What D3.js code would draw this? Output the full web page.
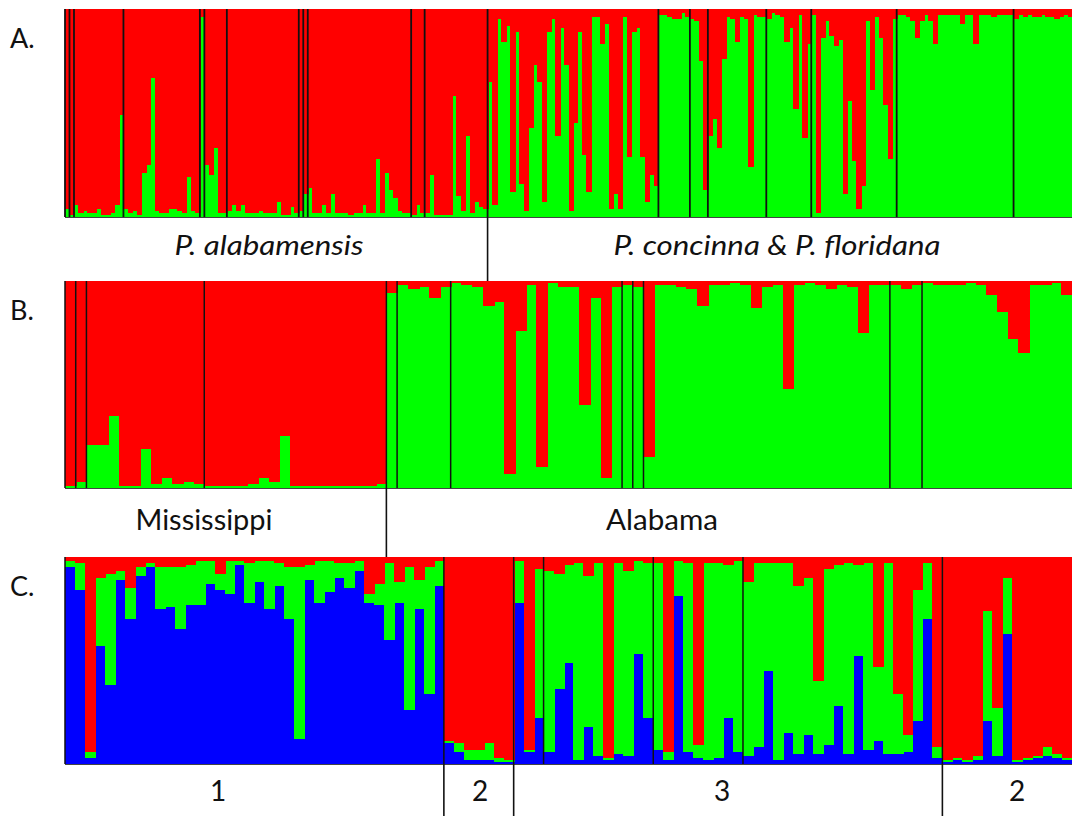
<!DOCTYPE html>
<html>
<head>
<meta charset="utf-8">
<script src="https://cdn.jsdelivr.net/npm/d3@7"></script>
<style>
    html, body { margin: 0; padding: 0; background: #fff; }
    svg { display: block; }
    text { font-family: Lato, "Open Sans", sans-serif; fill: #111; }
</style>
</head>
<body>
<div id="chart"></div>
<script>
// Panel A: all individuals, K=2 (green share, %), population sizes in plot order
const popsA = [1, 1, 11, 17, 1, 5, 16, 1, 1, 23, 3, 14, 38, 7, 4, 13, 10, 19, 26, 13];
const greenA = [
    4, 1,
    6, 2, 3, 2, 2, 4, 1, 1, 2, 6, 49,
    4, 2, 3, 1, 21, 25, 67, 3, 2, 2, 4, 4, 3, 2, 19, 3, 2,
    96,
    25, 20, 33, 2, 2,
    3, 6, 3, 6, 2, 2, 2, 3, 2, 2, 2, 7, 1, 1, 5, 2,
    3,
    11,
    14, 2, 2, 6, 2, 11, 2, 2, 2, 1, 2, 2, 6, 2, 2, 28, 2, 21, 13, 9, 3, 2, 2,
    1, 6, 2,
    2, 20, 1, 1, 1, 1, 58, 10, 3, 39, 2, 7, 5, 4,
    65, 6, 95, 84, 92, 12, 89, 16, 3, 43, 73, 65, 7, 89, 95, 39, 91, 73, 3, 45,
    89, 30, 12, 96, 96, 83, 93, 4, 11, 4, 96, 29, 89, 91, 29, 7, 20, 15,
    97, 97, 96, 95, 95, 98, 96,
    95, 94, 75, 13,
    39, 47, 33, 76, 96, 95, 84, 96, 95, 24, 97, 96, 96,
    95, 98, 97, 96, 84, 91, 52, 97, 38, 83,
    97, 2, 86, 94, 87, 82, 85, 11, 56, 27, 4, 15, 94, 61, 96, 86, 54, 28, 95,
    97, 97, 96, 94, 86, 94, 97, 94, 83, 97, 97, 97, 97, 97, 93, 97, 97, 83, 97, 97, 97, 96, 97, 97, 97, 97,
    95, 97, 96, 97, 96, 96, 97, 96, 96, 95, 96, 97, 96
];

// Panel B: P. alabamensis only, K=2 (green share, %)
const popsB = [1, 1, 11, 17, 1, 5, 16, 1, 1, 23, 3, 14];
const greenB = [
    1,
    3,
    21, 21, 35, 1, 1, 19, 2, 5, 2, 3, 2,
    1, 1, 1, 1, 2, 5, 3, 25, 1, 1, 1, 1, 1, 1, 1, 1, 2,
    94,
    98, 96, 97, 92, 97,
    99, 98, 97, 88, 90, 7, 76, 98, 10, 99, 97, 97, 40, 92, 5, 97,
    98,
    97,
    15, 98, 98, 97, 96, 88, 98, 98, 99, 98, 87, 97, 98, 48, 98, 99, 98, 96, 98, 97, 75, 98, 98,
    98, 96, 98,
    99, 98, 98, 98, 99, 98, 93, 85, 72, 65, 98, 98, 99, 93
];

// Panel C: K=3 (blue, green, red shares, %)
const popsC = [38, 7, 3, 11, 9, 20, 13];
const blueC = [
    95, 84, 3, 57, 38, 89, 70, 91, 95, 75, 76, 65, 77, 77, 87, 84, 82, 96, 78, 88,
    75, 86, 70, 12, 89, 78, 83, 90, 85, 93, 78, 77, 60, 78, 26, 75, 34, 86,
    10, 6, 2, 2, 2, 1, 1,
    78, 6, 22,
    6, 36, 49, 2, 18, 4, 2, 5, 4, 53, 22,
    7, 2, 81, 6, 3, 2, 3, 22, 6,
    4, 8, 45, 2, 15, 5, 14, 5, 9, 28, 5, 52, 7, 11, 5, 5, 6, 21, 70, 3,
    1, 2, 1, 2, 21, 4, 63, 1, 2, 3, 4, 3, 2
];
const greenC = [
    3, 13, 3, 33, 54, 4, 15, 4, 2, 20, 19, 30, 19, 21, 11, 8, 16, 2, 19, 10,
    23, 11, 25, 83, 7, 20, 15, 7, 12, 5, 4, 10, 37, 10, 69, 14, 61, 12,
    1, 4, 5, 5, 8, 2, 1,
    20, 1, 72,
    87, 56, 47, 95, 73, 93, 1, 92, 89, 45, 75,
    90, 4, 17, 91, 6, 95, 94, 74, 92,
    84, 89, 52, 95, 82, 81, 76, 35, 85, 68, 92, 44, 90, 36, 92, 29, 8, 63, 27, 5,
    1, 1, 1, 2, 53, 23, 27, 1, 1, 1, 4, 2, 1
];
const redC = [
    2, 3, 94, 10, 8, 7, 15, 5, 3, 5, 5, 5, 4, 2, 2, 8, 2, 2, 3, 2,
    2, 3, 5, 5, 4, 2, 2, 3, 3, 2, 18, 13, 3, 12, 5, 11, 5, 2,
    89, 90, 93, 93, 90, 97, 98,
    2, 93, 6,
    7, 8, 4, 3, 9, 3, 97, 3, 7, 2, 3,
    3, 94, 2, 3, 91, 3, 3, 4, 2,
    12, 3, 3, 3, 3, 14, 10, 60, 6, 4, 3, 4, 3, 53, 3, 66, 86, 16, 3, 92,
    98, 97, 98, 96, 26, 73, 10, 98, 97, 96, 92, 95, 97
];

const panelLabels = ["A.", "B.", "C."];
const speciesLabels = ["P. alabamensis", "P. concinna & P. floridana"];
const stateLabels = ["Mississippi", "Alabama"];
const clusterLabels = ["1", "2", "3", "2"];

const width = 1072,
    height = 816,
    left = 65,
    right = 1072;
const colors = { blue: "#0000ff", green: "#00ff00", red: "#ff0000" };

const svg = d3
    .select("#chart")
    .append("svg")
    .attr("width", width)
    .attr("height", height)
    .attr("viewBox", [0, 0, width, height]);

function structurePanel(rows, keys, pops, top, bottom, sepWidth) {
    var x = d3
        .scaleBand()
        .domain(d3.range(rows.length))
        .range([left, right])
        .padding(0);
    var y = d3.scaleLinear().domain([0, 1]).range([bottom, top]);
    var series = d3.stack().keys(keys).offset(d3.stackOffsetExpand)(rows);

    var g = svg.append("g");
    g.append("g")
        .attr("shape-rendering", "crispEdges")
        .selectAll("g")
        .data(series)
        .join("g")
        .attr("fill", (d) => colors[d.key])
        .selectAll("rect")
        .data((d) => d)
        .join("rect")
        .attr("x", (d, i) => x(i))
        .attr("width", x.bandwidth() + 1)
        .attr("y", (d) => y(d[1]))
        .attr("height", (d) => y(d[0]) - y(d[1]));

    // population boundaries
    var breaks = [0].concat(Array.from(d3.cumsum(pops)).slice(0, -1));
    g.append("g")
        .selectAll("line")
        .data(breaks)
        .join("line")
        .attr("x1", (d) => x(d))
        .attr("x2", (d) => x(d))
        .attr("y1", top)
        .attr("y2", bottom)
        .attr("stroke", "#111")
        .attr("stroke-width", sepWidth);

    g.append("line")
        .attr("x1", left)
        .attr("x2", right)
        .attr("y1", bottom + 0.5)
        .attr("y2", bottom + 0.5)
        .attr("stroke", "#444")
        .attr("stroke-width", 1);
    return x;
}

var rowsA = greenA.map((v) => ({ green: v, red: 100 - v }));
var rowsB = greenB.map((v) => ({ green: v, red: 100 - v }));
var rowsC = blueC.map((v, i) => ({ blue: v, green: greenC[i], red: redC[i] }));

var xA = structurePanel(rowsA, ["green", "red"], popsA, 9, 217, 1.8);
var xB = structurePanel(rowsB, ["green", "red"], popsB, 281, 488, 1.5);
var xC = structurePanel(rowsC, ["blue", "green", "red"], popsC, 557, 764, 1.5);

// group dividers between panels
function divider(x, y1, y2) {
    svg.append("line")
        .attr("x1", x)
        .attr("x2", x)
        .attr("y1", y1)
        .attr("y2", y2)
        .attr("stroke", "#111")
        .attr("stroke-width", 1.6);
}
divider(xA(94), 217, 281);
divider(xB(30), 488, 557);
divider(xC(38), 764, 816);
divider(xC(45), 764, 816);
divider(xC(88), 764, 816);

svg.append("g")
    .selectAll("text")
    .data(panelLabels)
    .join("text")
    .attr("x", 10)
    .attr("y", (d, i) => [48, 320, 596][i])
    .attr("font-size", 27)
    .text((d) => d);

svg.append("g")
    .selectAll("text")
    .data(speciesLabels)
    .join("text")
    .attr("x", (d, i) => [269, 777][i])
    .attr("y", 255)
    .attr("text-anchor", "middle")
    .attr("font-size", 27)
    .attr("font-style", "italic")
    .attr("textLength", (d, i) => [189, 327][i])
    .attr("lengthAdjust", "spacingAndGlyphs")
    .text((d) => d);

svg.append("g")
    .selectAll("text")
    .data(stateLabels)
    .join("text")
    .attr("x", (d, i) => [204, 662][i])
    .attr("y", 530)
    .attr("text-anchor", "middle")
    .attr("font-size", 28)
    .attr("textLength", (d, i) => [137, 112][i])
    .attr("lengthAdjust", "spacingAndGlyphs")
    .text((d) => d);

svg.append("g")
    .selectAll("text")
    .data(clusterLabels)
    .join("text")
    .attr("x", (d, i) => [218, 480, 722, 1017][i])
    .attr("y", 801)
    .attr("text-anchor", "middle")
    .attr("font-size", 28)
    .text((d) => d);
</script>
</body>
</html>
